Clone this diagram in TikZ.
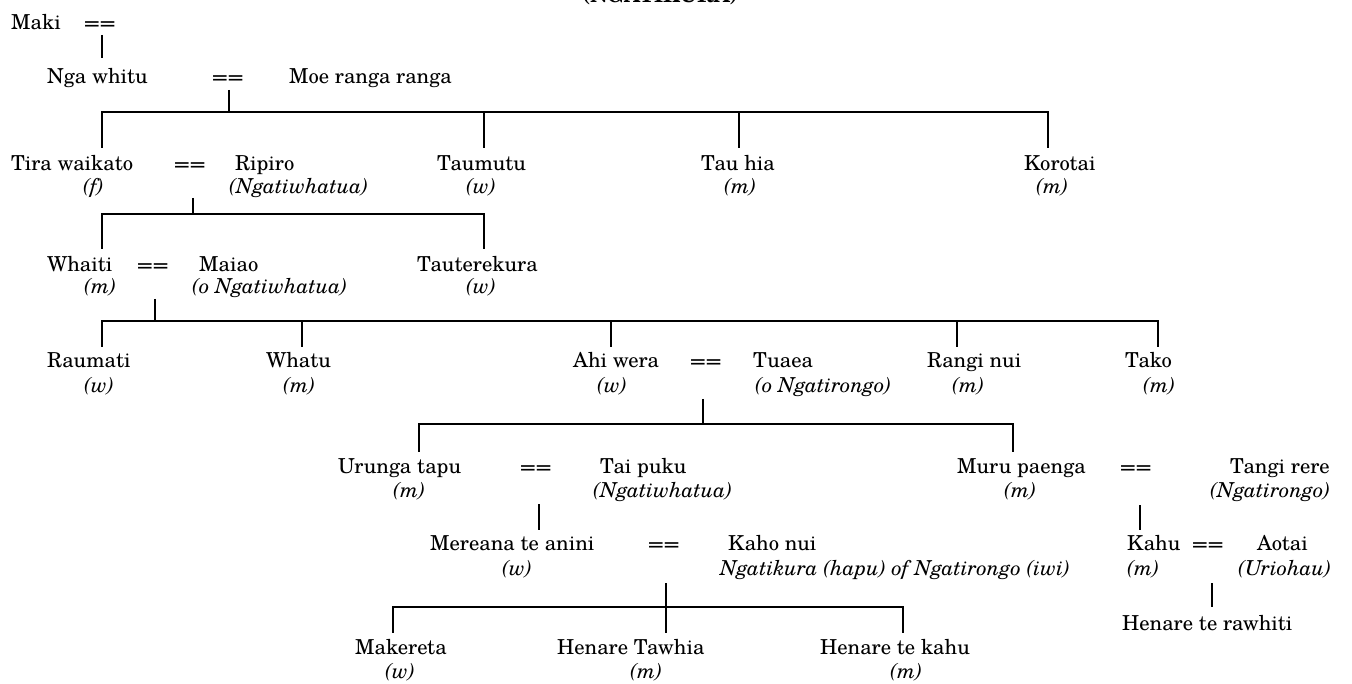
\documentclass[tikz,border=0pt]{standalone}
\usepackage{graphicx}
\usepackage{fontspec}
\IfFontExistsTF{TeX Gyre Schola}{\setmainfont{TeX Gyre Schola}\def\myfs{20.6}}{\setmainfont{Liberation Serif}\def\myfs{23.5}}
\newcommand\mareq{\scalebox{1.25}[1]{==}}
\tikzset{
  nm/.style={anchor=base west, inner sep=0pt, font=\fontsize{\myfs}{24}\selectfont},
  lb/.style={anchor=base west, inner sep=0pt, font=\fontsize{\myfs}{24}\selectfont\itshape},
  ttl/.style={anchor=base, inner sep=0pt, font=\fontsize{\myfs}{24}\selectfont\bfseries},
  ln/.style={line width=2pt},
}
\begin{document}
\begin{tikzpicture}[x=1pt,y=-1pt]
\useasboundingbox (0,0) rectangle (1352,684);
\clip (0,0) rectangle (1352,684);
\node[ttl] (title) at (660,3) {(NGATIKURA)};
% row 0
\node[nm] (maki) at (11,30) {Maki};
\node[nm] (e0) at (84,30) {\mareq};
% row 1
\node[nm] (ngawhitu) at (47,84) {Nga whitu};
\node[nm] (e1) at (212,84) {\mareq};
\node[nm] (moe) at (289,84) {Moe ranga ranga};
% row 2
\node[nm] (tira) at (11,171) {Tira waikato};
\node[lb] (tiral) at (83,194) {(f)};
\node[nm] (e2) at (174,171) {\mareq};
\node[nm] (ripiro) at (235,171) {Ripiro};
\node[lb] (ripirol) at (229,194) {(Ngatiwhatua)};
\node[nm] (taumutu) at (437,171) {Taumutu};
\node[lb] (taumutul) at (466,194) {(w)};
\node[nm] (tauhia) at (701,171) {Tau hia};
\node[lb] (tauhial) at (724,194) {(m)};
\node[nm] (korotai) at (1024,171) {Korotai};
\node[lb] (korotail) at (1036,194) {(m)};
% row 3
\node[nm] (whaiti) at (47,272) {Whaiti};
\node[lb] (whaitil) at (84,294) {(m)};
\node[nm] (e3) at (137,272) {\mareq};
\node[nm] (maiao) at (199,272) {Maiao};
\node[lb] (maiaol) at (192,294) {(o Ngatiwhatua)};
\node[nm] (tauterekura) at (417,272) {Tauterekura};
\node[lb] (tauterekural) at (466,294) {(w)};
% row 4
\node[nm] (raumati) at (47,368) {Raumati};
\node[lb] (raumatil) at (84,392) {(w)};
\node[nm] (whatu) at (266,368) {Whatu};
\node[lb] (whatul) at (283,392) {(m)};
\node[nm] (ahiwera) at (573,368) {Ahi wera};
\node[lb] (ahiweral) at (597,392) {(w)};
\node[nm] (e4) at (690,368) {\mareq};
\node[nm] (tuaea) at (753,368) {Tuaea};
\node[lb] (tuaeal) at (755,392) {(o Ngatirongo)};
\node[nm] (ranginui) at (927,368) {Rangi nui};
\node[lb] (ranginuil) at (952,392) {(m)};
\node[nm] (tako) at (1125,368) {Tako};
\node[lb] (takol) at (1143,392) {(m)};
% row 5
\node[nm] (urunga) at (338,473) {Urunga tapu};
\node[lb] (urungal) at (393,497) {(m)};
\node[nm] (e5) at (520,473) {\mareq};
\node[nm] (taipuku) at (600,473) {Tai puku};
\node[lb] (taipukul) at (593,497) {(Ngatiwhatua)};
\node[nm] (muru) at (957,473) {Muru paenga};
\node[lb] (murul) at (1004,497) {(m)};
\node[nm] (e6) at (1120,473) {\mareq};
\node[nm] (tangi) at (1230,473) {Tangi rere};
\node[lb] (tangil) at (1210,497) {(Ngatirongo)};
% row 6
\node[nm] (mereana) at (430,550) {Mereana te anini};
\node[lb] (mereanal) at (502,575) {(w)};
\node[nm] (e7) at (648,550) {\mareq};
\node[nm] (kahonui) at (728,550) {Kaho nui};
\node[lb] (kahonuil) at (720,575) {Ngatikura (hapu) of Ngatirongo (iwi)};
\node[nm] (kahu) at (1127,550) {Kahu};
\node[lb] (kahul) at (1127,575) {(m)};
\node[nm] (e8) at (1192,550) {\mareq};
\node[nm] (aotai) at (1257,550) {Aotai};
\node[lb] (aotail) at (1238,575) {(Uriohau)};
% row 7
\node[nm] (rawhiti) at (1122,630) {Henare te rawhiti};
\node[nm] (makereta) at (355,654) {Makereta};
\node[lb] (makeretal) at (385,678) {(w)};
\node[nm] (tawhia) at (557,654) {Henare Tawhia};
\node[lb] (tawhial) at (630,678) {(m)};
\node[nm] (tekahu) at (820,654) {Henare te kahu};
\node[lb] (tekahul) at (890,678) {(m)};
% connector coordinates
\coordinate (p0) at (102,35);  \coordinate (c0) at (102,58);
\coordinate (p1) at (229,90);  \coordinate (j1) at (229,112);
\coordinate (c1a) at (102,148); \coordinate (c1b) at (484,148);
\coordinate (c1c) at (739,148); \coordinate (c1d) at (1048,148);
\coordinate (p2) at (193,198); \coordinate (j2) at (193,214);
\coordinate (c2a) at (102,249); \coordinate (c2b) at (484,249);
\coordinate (p3) at (155,299); \coordinate (j3) at (155,321);
\coordinate (c3a) at (102,347); \coordinate (c3b) at (302,347);
\coordinate (c3c) at (611,347); \coordinate (c3d) at (957,347);
\coordinate (c3e) at (1158,347);
\coordinate (p4) at (703,399); \coordinate (j4) at (703,424);
\coordinate (c4a) at (419,452); \coordinate (c4b) at (1013,452);
\coordinate (p5) at (539,504); \coordinate (c5) at (539,530);
\coordinate (p6) at (1140,505); \coordinate (c6) at (1140,530);
\coordinate (p7) at (666,583); \coordinate (j7) at (666,607);
\coordinate (c7a) at (393,633); \coordinate (c7b) at (666,633);
\coordinate (c7c) at (903,633);
\coordinate (p8) at (1212,583); \coordinate (c8) at (1212,607);
% connectors
\draw[ln] (p0) -- (c0);
\draw[ln] (p1) -- (j1);
\draw[ln] (j1) -| (c1a); \draw[ln] (j1) -| (c1b); \draw[ln] (j1) -| (c1c); \draw[ln] (j1) -| (c1d);
\draw[ln] (p2) -- (j2);
\draw[ln] (j2) -| (c2a); \draw[ln] (j2) -| (c2b);
\draw[ln] (p3) -- (j3);
\draw[ln] (j3) -| (c3a); \draw[ln] (j3) -| (c3b); \draw[ln] (j3) -| (c3c); \draw[ln] (j3) -| (c3d); \draw[ln] (j3) -| (c3e);
\draw[ln] (p4) -- (j4);
\draw[ln] (j4) -| (c4a); \draw[ln] (j4) -| (c4b);
\draw[ln] (p5) -- (c5);
\draw[ln] (p6) -- (c6);
\draw[ln] (p7) -- (j7);
\draw[ln] (j7) -| (c7a); \draw[ln] (j7) -- (c7b); \draw[ln] (j7) -| (c7c);
\draw[ln] (p8) -- (c8);
\end{tikzpicture}
\end{document}
